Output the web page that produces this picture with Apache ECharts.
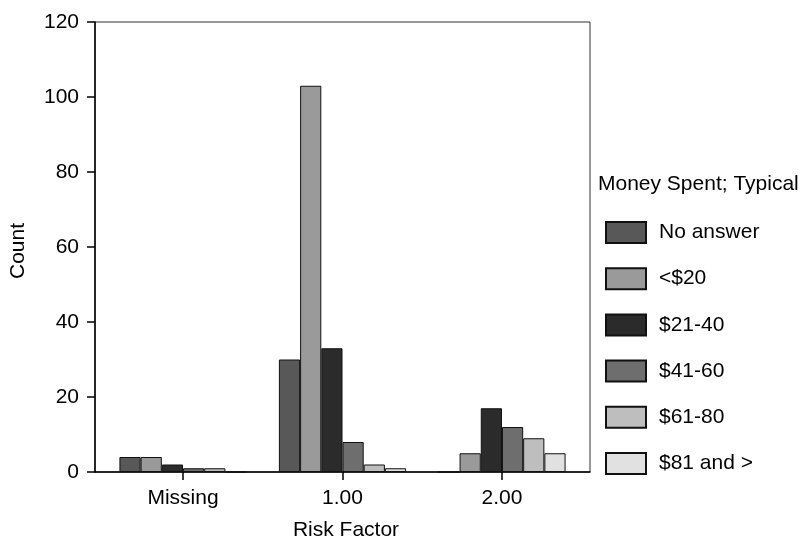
<!DOCTYPE html>
<html>
<head>
<meta charset="utf-8">
<script src="https://cdn.jsdelivr.net/npm/echarts@6/dist/echarts.min.js"></script>
<style>
html,body{margin:0;padding:0;background:#fff;}
#chart{width:804px;height:539px;}
</style>
</head>
<body>
<div id="chart"></div>
<script>
var categories = ['Missing', '1.00', '2.00'];
var seriesNames = ['No answer', '<$20', '$21-40', '$41-60', '$61-80', '$81 and >'];
var noAnswer = [4, 30, 0];
var under20 = [4, 103, 5];
var d21to40 = [2, 33, 17];
var d41to60 = [1, 8, 12];
var d61to80 = [1, 2, 9];
var d81up = [0, 1, 5];
var yTicks = [0, 20, 40, 60, 80, 100, 120];
var colors = ['#585858', '#9a9a9a', '#2b2b2b', '#6e6e6e', '#bebebe', '#e1e1e1'];

var values = [noAnswer, under20, d21to40, d41to60, d61to80, d81up];
var FONT = 'Liberation Sans, Arial, sans-serif';

var series = seriesNames.map(function (name, i) {
  return {
    name: name,
    type: 'bar',
    barWidth: 21.2,
    barGap: '0%',
    data: values[i].map(function (v, j) { return [j, v]; }),
    itemStyle: { color: colors[i], borderColor: '#111', borderWidth: 1 }
  };
});

var chart = echarts.init(document.getElementById('chart'));
chart.setOption({
  animation: false,
  backgroundColor: '#fff',
  textStyle: { fontFamily: FONT },
  grid: {
    left: 95, right: 214, top: 22, bottom: 67,
    show: true, borderColor: '#333', borderWidth: 1, backgroundColor: 'transparent'
  },
  xAxis: {
    type: 'value',
    min: -0.552,
    max: 2.552,
    axisLine: { show: true, onZero: false, lineStyle: { color: '#000', width: 1.5 } },
    axisTick: { show: true, length: 8, lineStyle: { color: '#000', width: 1.5 }, customValues: [0, 1, 2] },
    axisLabel: {
      customValues: [0, 1, 2],
      formatter: function (v) { return categories[Math.round(v)]; },
      fontSize: 21, color: '#000', margin: 16, fontFamily: FONT
    },
    splitLine: { show: false }
  },
  yAxis: {
    type: 'value',
    min: yTicks[0],
    max: yTicks[yTicks.length - 1],
    interval: 20,
    axisLine: { show: true, onZero: false, lineStyle: { color: '#000', width: 1.5 } },
    axisTick: { show: true, length: 8, lineStyle: { color: '#000', width: 1.5 } },
    axisLabel: { fontSize: 21, color: '#000', margin: 16, fontFamily: FONT },
    splitLine: { show: false }
  },
  legend: {
    orient: 'vertical',
    left: 605,
    top: 221,
    padding: 0,
    itemWidth: 40,
    itemHeight: 21,
    itemGap: 23.2,
    icon: 'rect',
    data: seriesNames,
    textStyle: { fontSize: 21, color: '#000', fontFamily: FONT, padding: [0, 0, 0, 8] }
  },
  graphic: [
    { type: 'text', left: 598, top: 174, style: { text: 'Money Spent; Typical', fontSize: 21, fill: '#000', fontFamily: FONT } },
    { type: 'text', x: 18, y: 251, rotation: Math.PI / 2, style: { text: 'Count', fontSize: 21, fill: '#000', fontFamily: FONT, align: 'center', verticalAlign: 'middle' } },
    { type: 'text', x: 346, y: 530, style: { text: 'Risk Factor', fontSize: 21, fill: '#000', fontFamily: FONT, align: 'center', verticalAlign: 'middle' } }
  ],
  series: series
});
</script>
</body>
</html>
